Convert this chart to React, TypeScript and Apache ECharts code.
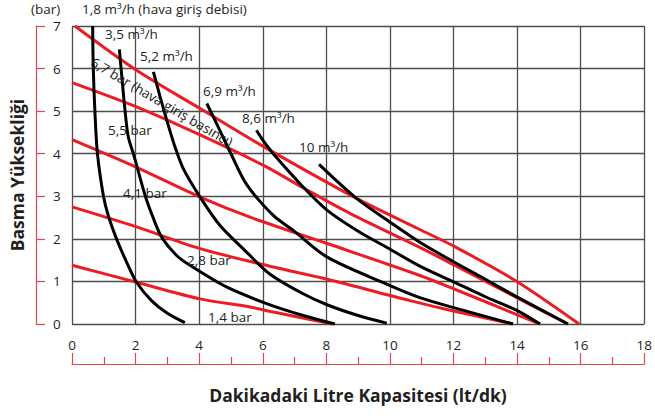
import React, { useEffect, useRef } from "react";
import * as echarts from "echarts";

// x axis ticks (lt/dk) and y axis ticks (bar)
const xTickValues = [0, 2, 4, 6, 8, 10, 12, 14, 16, 18];
const yTickValues = [0, 1, 2, 3, 4, 5, 6, 7];

// Air inlet pressure lines (red)
const pressureNames = ["6,7 bar", "5,5 bar", "4,1 bar", "2,8 bar", "1,4 bar"];
const p67 = [[0.09, 7], [2.03, 5.96], [4.03, 5.06], [6.04, 4.16], [8.95, 2.95], [10.94, 2.22], [12.03, 1.82], [13.99, 1.0], [15.95, 0]];
const p55 = [[0, 5.67], [2.03, 5.1], [4.03, 4.44], [6.04, 3.72], [7.27, 3.2], [8.74, 2.6], [10.94, 1.8], [12.03, 1.38], [13.99, 0.62], [15.6, 0]];
const p41 = [[0, 4.33], [2.03, 3.68], [4.03, 2.98], [5.6, 2.51], [8.03, 1.89], [10.94, 1.14], [12.03, 0.82], [13.4, 0.4], [14.72, 0]];
const p28 = [[0, 2.75], [2.03, 2.28], [4.03, 1.77], [6.33, 1.34], [8.03, 1.05], [10.63, 0.55], [12.03, 0.3], [13.87, 0]];
const p14 = [[0, 1.38], [2.03, 0.98], [4.03, 0.59], [5.6, 0.4], [6.33, 0.28], [8.2, 0]];

// Air inlet flow curves (black)
const flowNames = ["1,8 m³/h", "3,5 m³/h", "5,2 m³/h", "6,9 m³/h", "8,6 m³/h", "10 m³/h"];
const f18 = [[0.65, 7], [0.67, 6], [0.72, 5], [0.8, 4], [0.99, 3.0], [1.14, 2.55], [1.4, 2.0], [1.72, 1.45], [2.03, 0.98], [2.5, 0.55], [3.0, 0.25], [3.55, 0.03]];
const f35 = [[1.49, 6.45], [1.58, 5.7], [1.67, 5.0], [1.77, 4.4], [1.95, 3.95], [2.3, 3.02], [2.55, 2.5], [2.82, 2.04], [3.29, 1.61], [3.71, 1.38], [4.86, 0.87], [6.12, 0.48], [7.27, 0.2], [8.27, 0.0]];
const f52 = [[2.56, 5.92], [2.77, 5.34], [2.98, 4.79], [3.24, 4.16], [3.5, 3.65], [4.03, 2.98], [4.65, 2.32], [5.49, 1.69], [6.23, 1.17], [7.27, 0.71], [8.06, 0.44], [9.0, 0.2], [9.9, 0.02]];
const f69 = [[4.24, 5.18], [4.65, 4.55], [5.0, 4.0], [5.49, 3.28], [6.33, 2.55], [6.96, 2.2], [8.03, 1.57], [9.95, 0.92], [10.94, 0.62], [12.03, 0.38], [13.87, 0]];
const f86 = [[5.8, 4.55], [6.02, 4.3], [6.33, 4.0], [7.27, 3.22], [8.03, 2.67], [9.0, 2.18], [9.95, 1.78], [10.94, 1.36], [12.03, 0.98], [13.0, 0.64], [13.99, 0.32], [14.72, 0]];
const f10 = [[7.77, 3.75], [8.95, 2.95], [9.95, 2.42], [10.94, 1.92], [12.03, 1.45], [13.0, 1.05], [13.99, 0.64], [15.6, 0]];

const pressureData = [p67, p55, p41, p28, p14];
const flowData = [f18, f35, f52, f69, f86, f10];

const FONT = "'Open Sans', 'Noto Sans', sans-serif";
const TXT = "#231f20";
const AXIS_RED = "#e0464f";
const LINE_RED = "#ec1c24";

export default function App() {
  const ref = useRef<HTMLDivElement>(null);
  useEffect(() => {
    if (!ref.current) return;
    const chart = echarts.init(ref.current, undefined, { renderer: "svg" });
    const series: any[] = [];
    pressureData.forEach((d, i) => {
      series.push({
        name: pressureNames[i],
        type: "line",
        data: d,
        smooth: 0.3,
        symbol: "none",
        lineStyle: { color: LINE_RED, width: 3 },
        z: 2,
      });
    });
    flowData.forEach((d, i) => {
      series.push({
        name: flowNames[i],
        type: "line",
        data: d,
        smooth: 0.3,
        symbol: "none",
        lineStyle: { color: "#000", width: 3 },
        z: 3,
      });
    });
    const t = (text: string, x: number, y: number, extra: any = {}) => ({
      type: "text",
      x,
      y,
      rotation: extra.rotation || 0,
      style: {
        text,
        fill: TXT,
        fontSize: extra.size || 13.5,
        fontFamily: FONT,
        fontWeight: extra.weight || "normal",
        textAlign: extra.align || "left",
        textVerticalAlign: "middle",
      },
      z: 10,
    });
    chart.setOption({
      animation: false,
      backgroundColor: "#fff",
      grid: { left: 72, right: 10, top: 26, bottom: 92 },
      xAxis: {
        type: "value",
        min: xTickValues[0],
        max: xTickValues[xTickValues.length - 1],
        interval: 2,
        offset: 40,
        axisLine: { show: true, onZero: false, lineStyle: { color: AXIS_RED, width: 1.2 } },
        axisTick: { show: true, inside: true, length: 11, lineStyle: { color: AXIS_RED, width: 1.2 } },
        minorTick: { show: true, splitNumber: 2, length: 7, lineStyle: { color: AXIS_RED, width: 1.2 } },
        axisLabel: { inside: true, margin: 12, color: TXT, fontSize: 13.5, fontFamily: FONT },
        splitLine: { show: true, lineStyle: { color: "#4d4d4d", width: 1.3 } },
      },
      yAxis: {
        type: "value",
        min: yTickValues[0],
        max: yTickValues[yTickValues.length - 1],
        interval: 1,
        offset: 36,
        axisLine: { show: true, onZero: false, lineStyle: { color: AXIS_RED, width: 1.2 } },
        axisTick: { show: true, inside: true, length: 9, lineStyle: { color: AXIS_RED, width: 1.2 } },
        axisLabel: { inside: true, margin: 17, color: TXT, fontSize: 13.5, fontFamily: FONT },
        splitLine: { show: true, lineStyle: { color: "#4d4d4d", width: 1.3 } },
      },
      series,
      graphic: [
        t("(bar)", 31, 9),
        t("1,8 m³/h (hava giriş debisi)", 82, 9),
        t("3,5 m³/h", 105, 34),
        t("5,2 m³/h", 140, 56),
        t("6,9 m³/h", 203, 91),
        t("8,6 m³/h", 242, 118),
        t("10 m³/h", 299, 147),
        t("5,5 bar", 108, 130),
        t("4,1 bar", 123, 193),
        t("2,8 bar", 187, 260),
        t("1,4 bar", 208, 317),
        t("6,7 bar (hava giriş basıncı)", 92, 61, { rotation: -0.53 }),
        t("Dakikadaki Litre Kapasitesi (lt/dk)", 358, 395, { size: 17.5, weight: "bold", align: "center" }),
        t("Basma Yüksekliği", 17, 175, { size: 17.5, weight: "bold", align: "center", rotation: Math.PI / 2 }),
      ],
    });
    return () => chart.dispose();
  }, []);
  return <div ref={ref} style={{ position: "fixed", left: 0, top: 0, width: 655, height: 416 }} />;
}
